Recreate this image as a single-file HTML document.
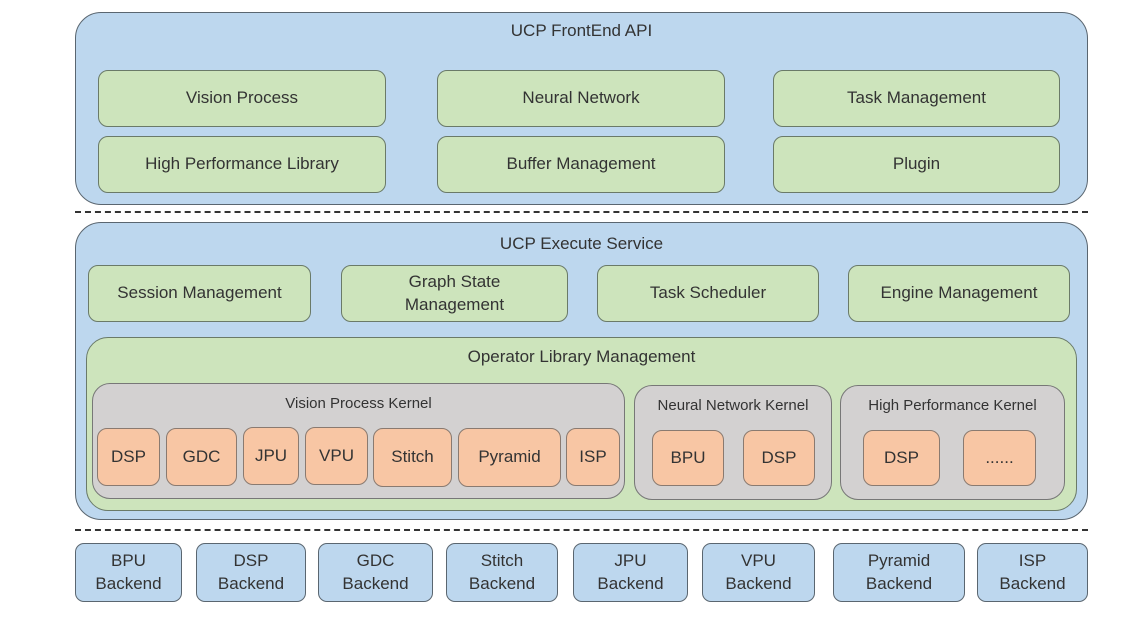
<!DOCTYPE html>
<html><head><style>
body{margin:0;width:1125px;height:617px;background:#fff;position:relative;overflow:hidden;font-family:"Liberation Sans",sans-serif;color:#333}
.b{position:absolute;box-sizing:border-box;border:1.5px solid #5a6670;display:flex;align-items:center;justify-content:center;text-align:center;line-height:1.3}
.bl{background:#bdd7ee}
.g{background:#cde4bc;border-color:#6a7a68}
.gr{background:#d3d1d1;border-color:#777}
.o{background:#f8c6a4;border-color:#8a7a70}
.t{position:absolute;text-align:center;font-size:16px;color:#333}
.d{position:absolute;left:75px;width:1013px;border-top:2px dashed #333}
</style></head><body>
<div class="b bl" style="left:75px;top:12px;width:1013px;height:193px;border-radius:26px"></div>
<div class="t" style="left:75px;width:1013px;top:21px;font-size:17px">UCP FrontEnd API</div>
<div class="b g" style="left:98px;top:70px;width:288px;height:57px;border-radius:10px;font-size:17px">Vision Process</div>
<div class="b g" style="left:437px;top:70px;width:288px;height:57px;border-radius:10px;font-size:17px">Neural Network</div>
<div class="b g" style="left:773px;top:70px;width:287px;height:57px;border-radius:10px;font-size:17px">Task Management</div>
<div class="b g" style="left:98px;top:136px;width:288px;height:57px;border-radius:10px;font-size:17px">High Performance Library</div>
<div class="b g" style="left:437px;top:136px;width:288px;height:57px;border-radius:10px;font-size:17px">Buffer Management</div>
<div class="b g" style="left:773px;top:136px;width:287px;height:57px;border-radius:10px;font-size:17px">Plugin</div>
<div class="d" style="top:211px"></div>
<div class="b bl" style="left:75px;top:222px;width:1013px;height:298px;border-radius:26px"></div>
<div class="t" style="left:75px;width:1013px;top:234px;font-size:17px">UCP Execute Service</div>
<div class="b g" style="left:88px;top:265px;width:223px;height:57px;border-radius:10px;font-size:17px">Session Management</div>
<div class="b g" style="left:341px;top:265px;width:227px;height:57px;border-radius:10px;font-size:17px">Graph State<br>Management</div>
<div class="b g" style="left:597px;top:265px;width:222px;height:57px;border-radius:10px;font-size:17px">Task Scheduler</div>
<div class="b g" style="left:848px;top:265px;width:222px;height:57px;border-radius:10px;font-size:17px">Engine Management</div>
<div class="b g" style="left:86px;top:337px;width:991px;height:174px;border-radius:22px"></div>
<div class="t" style="left:86px;width:991px;top:347px;font-size:17px">Operator Library Management</div>
<div class="b gr" style="left:92px;top:383px;width:533px;height:116px;border-radius:18px"></div>
<div class="t" style="left:92px;width:533px;top:395px;font-size:15px">Vision Process Kernel</div>
<div class="b gr" style="left:634px;top:385px;width:198px;height:115px;border-radius:18px"></div>
<div class="t" style="left:634px;width:198px;top:397px;font-size:15px">Neural Network Kernel</div>
<div class="b gr" style="left:840px;top:385px;width:225px;height:115px;border-radius:18px"></div>
<div class="t" style="left:840px;width:225px;top:397px;font-size:15px">High Performance Kernel</div>
<div class="b o" style="left:97px;top:428px;width:63px;height:58px;border-radius:10px;font-size:17px">DSP</div>
<div class="b o" style="left:166px;top:428px;width:71px;height:58px;border-radius:10px;font-size:17px">GDC</div>
<div class="b o" style="left:243px;top:427px;width:56px;height:58px;border-radius:10px;font-size:17px">JPU</div>
<div class="b o" style="left:305px;top:427px;width:63px;height:58px;border-radius:10px;font-size:17px">VPU</div>
<div class="b o" style="left:373px;top:428px;width:79px;height:59px;border-radius:10px;font-size:17px">Stitch</div>
<div class="b o" style="left:458px;top:428px;width:103px;height:59px;border-radius:10px;font-size:17px">Pyramid</div>
<div class="b o" style="left:566px;top:428px;width:54px;height:58px;border-radius:10px;font-size:17px">ISP</div>
<div class="b o" style="left:652px;top:430px;width:72px;height:56px;border-radius:10px;font-size:17px">BPU</div>
<div class="b o" style="left:743px;top:430px;width:72px;height:56px;border-radius:10px;font-size:17px">DSP</div>
<div class="b o" style="left:863px;top:430px;width:77px;height:56px;border-radius:10px;font-size:17px">DSP</div>
<div class="b o" style="left:963px;top:430px;width:73px;height:56px;border-radius:10px;font-size:17px">......</div>
<div class="d" style="top:529px"></div>
<div class="b bl" style="left:75px;top:543px;width:107px;height:59px;border-radius:9px;font-size:17px">BPU<br>Backend</div>
<div class="b bl" style="left:196px;top:543px;width:110px;height:59px;border-radius:9px;font-size:17px">DSP<br>Backend</div>
<div class="b bl" style="left:318px;top:543px;width:115px;height:59px;border-radius:9px;font-size:17px">GDC<br>Backend</div>
<div class="b bl" style="left:446px;top:543px;width:112px;height:59px;border-radius:9px;font-size:17px">Stitch<br>Backend</div>
<div class="b bl" style="left:573px;top:543px;width:115px;height:59px;border-radius:9px;font-size:17px">JPU<br>Backend</div>
<div class="b bl" style="left:702px;top:543px;width:113px;height:59px;border-radius:9px;font-size:17px">VPU<br>Backend</div>
<div class="b bl" style="left:833px;top:543px;width:132px;height:59px;border-radius:9px;font-size:17px">Pyramid<br>Backend</div>
<div class="b bl" style="left:977px;top:543px;width:111px;height:59px;border-radius:9px;font-size:17px">ISP<br>Backend</div>
</body></html>
